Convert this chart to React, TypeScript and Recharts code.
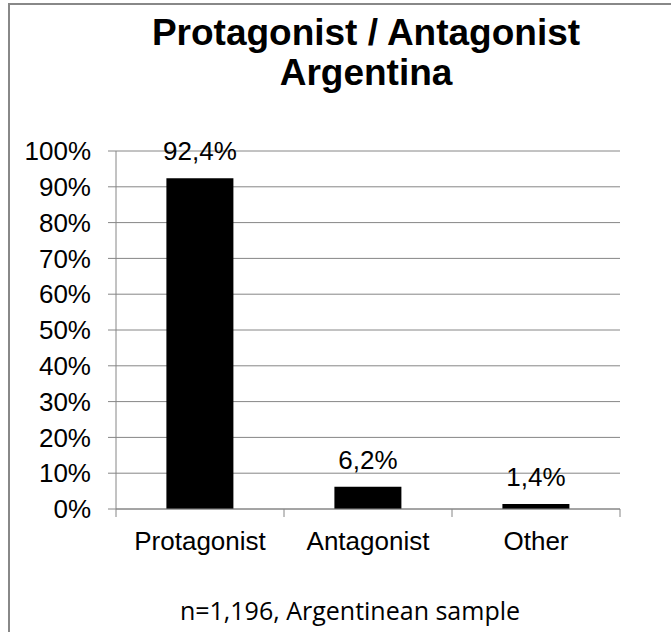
import React from "react";
import { BarChart, Bar, XAxis, YAxis, CartesianGrid, LabelList } from "recharts";

const categories = ["Protagonist", "Antagonist", "Other"];
const shares = [92.4, 6.2, 1.4];
const yTicks = [0, 10, 20, 30, 40, 50, 60, 70, 80, 90, 100];
const titleLines = ["Protagonist / Antagonist", "Argentina"];
const footnote = "n=1,196, Argentinean sample";

const data = categories.map((name, i) => ({ name, value: shares[i] }));

const FONT = "'Liberation Sans', Arial, sans-serif";
const GRID = "#868686";

const fmtPct = (v: number) => v.toFixed(1).replace(".", ",") + "%";

// x ticks sit on the category boundaries, labels in the middle
const CategoryTick = (props: any) => {
  const { x, y, payload, index, visibleTicksCount } = props;
  const half = payload && payload.offset ? payload.offset : 84;
  const last = index === visibleTicksCount - 1;
  return (
    <g>
      <line x1={x - half} x2={x - half} y1={y - 8} y2={y} stroke={GRID} />
      {last && <line x1={x + half} x2={x + half} y1={y - 8} y2={y} stroke={GRID} />}
      <text x={x} y={y + 33} textAnchor="middle" fontSize={26} fill="#000" fontFamily={FONT}>
        {payload.value}
      </text>
    </g>
  );
};

export default function App() {
  return (
    <div style={{ position: "absolute", left: 0, top: 0, width: 671, height: 632, background: "#fff", overflow: "hidden" }}>
      <BarChart
        width={671}
        height={632}
        data={data}
        margin={{ top: 151, right: 51, bottom: 63, left: 0 }}
        barCategoryGap="30%"
      >
        <CartesianGrid vertical={false} stroke={GRID} />
        <XAxis
          dataKey="name"
          height={60}
          tickSize={8}
          tickMargin={0}
          tickLine={false}
          axisLine={{ stroke: GRID }}
          tick={<CategoryTick />}
          interval={0}
        />
        <YAxis
          width={116}
          domain={[0, 100]}
          ticks={yTicks}
          interval={0}
          tickFormatter={(v: number) => v + "%"}
          tickSize={8}
          tickMargin={17}
          axisLine={{ stroke: GRID }}
          tickLine={{ stroke: GRID }}
          tick={{ fontSize: 26, fill: "#000", fontFamily: FONT }}
        />
        <Bar dataKey="value" fill="#000" isAnimationActive={false}>
          <LabelList
            dataKey="value"
            position="top"
            offset={18}
            formatter={(v: any) => fmtPct(Number(v))}
            style={{ fontSize: 26, fill: "#000", fontFamily: FONT }}
          />
        </Bar>
      </BarChart>
      <svg
        width={671}
        height={632}
        style={{ position: "absolute", left: 0, top: 0, pointerEvents: "none" }}
      >
        <rect x={9} y={4} width={800} height={800} fill="none" stroke="#888" strokeWidth={2} />
        <text x={366} y={45} textAnchor="middle" fontSize={37} fontWeight="bold" fontFamily={FONT} fill="#000">
          {titleLines[0]}
        </text>
        <text x={366} y={85} textAnchor="middle" fontSize={37} fontWeight="bold" fontFamily={FONT} fill="#000">
          {titleLines[1]}
        </text>
        <text x={350} y={620} textAnchor="middle" fontSize={25} fontFamily="'Open Sans', sans-serif" fill="#000">
          {footnote}
        </text>
      </svg>
    </div>
  );
}
